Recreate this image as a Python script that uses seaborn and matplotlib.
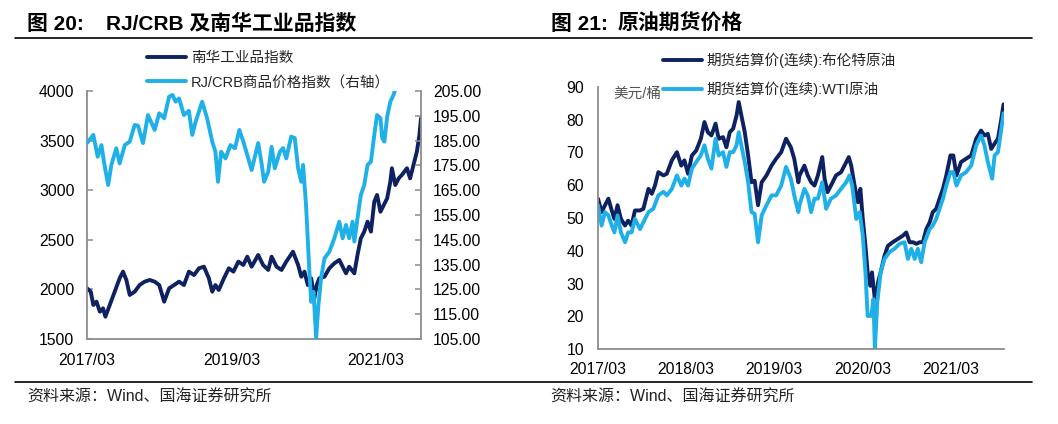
import numpy as np
import pandas as pd
import seaborn as sns
import matplotlib
matplotlib.use('Agg')
import matplotlib.pyplot as plt
import matplotlib.dates as mdates
from matplotlib.lines import Line2D
from matplotlib.ticker import FormatStrFormatter

# ---- data ----
# 南华工业品指数 (left axis)
nanhua_dates = [
    '2017-03-01', '2017-03-20', '2017-04-02', '2017-04-18', '2017-05-05', '2017-05-21',
    '2017-06-02', '2017-06-24', '2017-07-19', '2017-08-13', '2017-08-30', '2017-09-16',
    '2017-10-03', '2017-10-28', '2017-11-22', '2017-12-17', '2018-01-12', '2018-02-06',
    '2018-03-01', '2018-03-26', '2018-04-20', '2018-05-15', '2018-06-09', '2018-07-04',
    '2018-07-29', '2018-08-24', '2018-09-18', '2018-10-13', '2018-11-07', '2018-11-24',
    '2018-12-10', '2018-12-27', '2019-01-22', '2019-02-16', '2019-03-11', '2019-04-05',
    '2019-04-30', '2019-05-20', '2019-06-11', '2019-07-14', '2019-08-08', '2019-09-03',
    '2019-09-20', '2019-10-15', '2019-11-09', '2019-12-03', '2020-01-06', '2020-02-01',
    '2020-02-17', '2020-03-04', '2020-03-21', '2020-04-07', '2020-04-23', '2020-05-05',
    '2020-05-18', '2020-06-13', '2020-07-08', '2020-08-02', '2020-08-27', '2020-09-13',
    '2020-09-30', '2020-10-16', '2020-11-11', '2020-11-27', '2020-12-14', '2020-12-31',
    '2021-01-17', '2021-02-03', '2021-02-20', '2021-03-06', '2021-03-23', '2021-04-09',
    '2021-04-26', '2021-05-12', '2021-05-20', '2021-06-06', '2021-06-23', '2021-07-09',
    '2021-08-04', '2021-08-20', '2021-09-06', '2021-09-23', '2021-10-06', '2021-10-14',
]
nanhua_values = [
    2011, 1977, 1843, 1877, 1775, 1809,
    1725, 1843, 1977, 2112, 2179, 2095,
    1944, 1977, 2044, 2078, 2095, 2078,
    2044, 1876, 2011, 2044, 2078, 2044,
    2179, 2145, 2213, 2229, 2112, 1977,
    2044, 1994, 2112, 2213, 2179, 2280,
    2246, 2330, 2229, 2347, 2246, 2196,
    2330, 2229, 2196, 2280, 2380, 2246,
    2128, 2179, 2044, 2112, 1910, 2044,
    2112, 2128, 2213, 2263, 2297, 2229,
    2162, 2229, 2162, 2347, 2515, 2582,
    2683, 2582, 2884, 2952, 2783, 2851,
    2918, 3086, 3221, 3052, 3119, 3153,
    3221, 3119, 3254, 3388, 3556, 3725,
]

# RJ/CRB商品价格指数 (right axis)
crb_dates = [
    '2017-03-01', '2017-04-02', '2017-04-24', '2017-05-13', '2017-05-27', '2017-06-16',
    '2017-07-02', '2017-07-27', '2017-08-13', '2017-09-08', '2017-10-03', '2017-10-28',
    '2017-11-14', '2017-12-09', '2018-01-03', '2018-02-06', '2018-03-01', '2018-03-26',
    '2018-04-20', '2018-05-07', '2018-05-23', '2018-06-09', '2018-07-04', '2018-07-29',
    '2018-08-15', '2018-09-01', '2018-10-04', '2018-10-29', '2018-11-24', '2018-12-10',
    '2018-12-23', '2019-01-08', '2019-01-30', '2019-02-24', '2019-03-19', '2019-04-10',
    '2019-04-30', '2019-05-20', '2019-06-11', '2019-07-14', '2019-07-31', '2019-08-13',
    '2019-09-03', '2019-09-20', '2019-10-06', '2019-11-01', '2019-11-17', '2019-12-03',
    '2019-12-28', '2020-01-15', '2020-02-01', '2020-02-17', '2020-02-26', '2020-03-12',
    '2020-03-29', '2020-04-07', '2020-04-19', '2020-05-02', '2020-05-13', '2020-05-27',
    '2020-06-13', '2020-07-08', '2020-08-02', '2020-08-27', '2020-09-13', '2020-09-30',
    '2020-10-16', '2020-11-02', '2020-11-11', '2020-11-27', '2020-12-14', '2020-12-31',
    '2021-01-17', '2021-02-03', '2021-02-20', '2021-03-06', '2021-03-23', '2021-04-01',
    '2021-04-12', '2021-04-26', '2021-05-12', '2021-05-28', '2021-06-15', '2021-07-15',
    '2021-08-20', '2021-09-20', '2021-10-14',
]
crb_values = [
    184.0, 187.3, 178.5, 183.2, 175.8, 167.1,
    175.2, 181.9, 175.8, 183.2, 184.6, 191.3,
    191.0, 184.0, 195.3, 189.3, 196.0, 194.0,
    202.7, 203.4, 200.7, 202.0, 195.3, 197.0,
    187.3, 192.6, 200.7, 194.0, 184.6, 180.5,
    168.4, 180.5, 177.8, 183.2, 181.9, 189.3,
    184.6, 179.2, 173.1, 184.0, 176.0, 168.4,
    172.5, 182.5, 173.8, 180.5, 182.0, 177.8,
    186.6, 186.0, 173.8, 168.4, 175.2, 159.0,
    132.1, 120.0, 124.0, 105.3, 118.0, 129.5,
    137.5, 140.2, 145.6, 152.3, 145.6, 151.0,
    145.6, 152.3, 144.3, 153.7, 163.1, 167.1,
    175.2, 176.5, 187.3, 195.3, 194.0, 186.0,
    184.6, 194.6, 200.7, 203.4, 208.0, 212.0,
    210.0, 218.0, 228.0,
]

# 期货结算价(连续):布伦特原油
brent_dates = [
    '2017-03-01', '2017-03-16', '2017-03-30', '2017-04-13', '2017-04-27', '2017-05-08',
    '2017-05-21', '2017-06-04', '2017-06-21', '2017-07-04', '2017-07-18', '2017-08-01',
    '2017-08-22', '2017-09-05', '2017-09-26', '2017-10-10', '2017-10-23', '2017-11-06',
    '2017-11-27', '2017-12-11', '2018-01-01', '2018-01-22', '2018-02-09', '2018-02-22',
    '2018-03-09', '2018-03-25', '2018-04-12', '2018-05-01', '2018-05-16', '2018-05-30',
    '2018-06-14', '2018-07-01', '2018-07-14', '2018-08-01', '2018-08-15', '2018-08-29',
    '2018-09-12', '2018-09-26', '2018-10-05', '2018-10-16', '2018-10-30', '2018-11-13',
    '2018-11-27', '2018-12-10', '2018-12-24', '2019-01-08', '2019-01-28', '2019-02-18',
    '2019-03-09', '2019-03-30', '2019-04-19', '2019-05-09', '2019-05-23', '2019-06-09',
    '2019-06-14', '2019-07-04', '2019-07-18', '2019-08-01', '2019-08-15', '2019-08-29',
    '2019-09-16', '2019-09-26', '2019-10-08', '2019-10-29', '2019-11-12', '2019-12-03',
    '2019-12-17', '2020-01-04', '2020-01-14', '2020-01-28', '2020-02-11', '2020-02-21',
    '2020-03-02', '2020-03-13', '2020-03-22', '2020-04-02', '2020-04-09', '2020-04-18',
    '2020-04-24', '2020-05-04', '2020-05-15', '2020-05-31', '2020-06-14', '2020-07-04',
    '2020-07-25', '2020-08-15', '2020-08-29', '2020-09-12', '2020-09-26', '2020-10-10',
    '2020-10-23', '2020-11-06', '2020-11-20', '2020-12-04', '2020-12-17', '2020-12-31',
    '2021-01-14', '2021-01-28', '2021-02-11', '2021-02-28', '2021-03-12', '2021-03-25',
    '2021-04-13', '2021-05-04', '2021-05-25', '2021-06-15', '2021-07-05', '2021-07-19',
    '2021-08-02', '2021-08-16', '2021-08-30', '2021-09-13', '2021-09-27', '2021-10-06',
]
brent_values = [
    55.9, 51.8, 53.9, 55.9, 52.3, 49.7,
    53.9, 49.7, 47.7, 49.2, 47.7, 52.3,
    52.3, 52.8, 58.9, 57.4, 59.9, 64.0,
    63.0, 63.5, 67.6, 70.1, 66.0, 67.6,
    63.5, 69.1, 70.6, 74.2, 79.3, 76.2,
    75.2, 78.8, 74.2, 74.7, 71.6, 76.2,
    77.3, 81.3, 85.4, 81.3, 76.2, 69.1,
    60.9, 61.4, 53.9, 60.9, 63.0, 66.0,
    68.1, 70.1, 74.2, 71.6, 68.1, 60.9,
    63.0, 66.0, 63.0, 60.9, 59.9, 63.0,
    68.6, 61.9, 57.9, 60.9, 63.0, 64.0,
    66.0, 68.6, 66.0, 59.9, 54.8, 58.9,
    49.7, 41.5, 33.4, 29.3, 33.4, 27.3,
    22.2, 30.3, 33.4, 38.5, 41.5, 42.6,
    43.6, 44.6, 45.6, 42.6, 42.6, 42.1,
    42.6, 42.6, 46.6, 48.7, 51.8, 52.8,
    55.9, 58.9, 63.0, 69.1, 69.1, 63.0,
    67.1, 68.1, 69.1, 74.2, 76.7, 75.2,
    75.7, 71.1, 72.7, 74.2, 80.3, 84.7,
]

# 期货结算价(连续):WTI原油
wti_dates = [
    '2017-03-01', '2017-03-16', '2017-03-30', '2017-04-13', '2017-04-27', '2017-05-08',
    '2017-05-21', '2017-06-04', '2017-06-21', '2017-07-04', '2017-07-18', '2017-08-01',
    '2017-08-22', '2017-09-05', '2017-09-26', '2017-10-16', '2017-11-06', '2017-11-27',
    '2017-12-11', '2018-01-01', '2018-01-22', '2018-02-09', '2018-02-22', '2018-03-09',
    '2018-03-25', '2018-04-12', '2018-05-01', '2018-05-16', '2018-05-30', '2018-06-14',
    '2018-07-01', '2018-07-14', '2018-08-01', '2018-08-15', '2018-08-29', '2018-09-12',
    '2018-09-26', '2018-10-05', '2018-10-16', '2018-10-30', '2018-11-13', '2018-11-27',
    '2018-12-10', '2018-12-24', '2019-01-08', '2019-01-28', '2019-02-18', '2019-03-09',
    '2019-03-30', '2019-04-19', '2019-05-09', '2019-05-23', '2019-06-09', '2019-06-14',
    '2019-07-04', '2019-07-18', '2019-08-01', '2019-08-15', '2019-08-29', '2019-09-16',
    '2019-10-02', '2019-10-22', '2019-11-12', '2019-12-03', '2019-12-24', '2020-01-07',
    '2020-01-18', '2020-02-04', '2020-02-18', '2020-03-02', '2020-03-13', '2020-03-22',
    '2020-04-06', '2020-04-15', '2020-04-21', '2020-05-01', '2020-05-15', '2020-05-31',
    '2020-06-21', '2020-07-11', '2020-08-01', '2020-08-22', '2020-09-05', '2020-09-19',
    '2020-10-03', '2020-10-16', '2020-10-30', '2020-11-13', '2020-12-04', '2020-12-17',
    '2020-12-31', '2021-01-14', '2021-01-28', '2021-02-11', '2021-02-28', '2021-03-12',
    '2021-03-25', '2021-04-13', '2021-05-04', '2021-05-25', '2021-06-15', '2021-07-05',
    '2021-07-19', '2021-08-02', '2021-08-20', '2021-08-30', '2021-09-13', '2021-09-27',
    '2021-10-06',
]
wti_values = [
    53.9, 47.7, 51.8, 50.8, 47.7, 45.6,
    50.8, 45.6, 42.6, 45.6, 45.6, 49.7,
    46.6, 48.7, 51.8, 52.8, 56.9, 58.0,
    56.9, 58.9, 63.0, 59.9, 62.0, 59.9,
    65.1, 67.1, 69.1, 72.2, 68.1, 65.1,
    74.2, 69.1, 70.1, 65.6, 70.1, 70.1,
    72.2, 76.2, 72.2, 67.1, 60.9, 51.8,
    51.3, 42.6, 50.8, 53.9, 56.9, 56.9,
    59.9, 65.6, 62.0, 56.9, 51.8, 54.0,
    58.9, 56.9, 51.8, 55.9, 55.9, 60.9,
    52.8, 55.9, 56.9, 58.9, 60.9, 63.0,
    59.9, 49.7, 51.8, 44.6, 33.4, 20.1,
    20.1, 25.2, 10.0, 24.2, 33.4, 37.5,
    39.6, 40.6, 42.1, 42.6, 37.5, 40.6,
    37.5, 40.6, 36.5, 42.6, 46.6, 47.7,
    49.7, 52.8, 55.9, 59.9, 64.0, 64.0,
    59.9, 63.0, 64.0, 66.0, 72.2, 75.2,
    72.2, 67.1, 62.0, 69.1, 70.1, 77.3,
    82.0,
]

left_ticks = ['2017-03-01', '2019-03-01', '2021-03-01']
right_ticks = ['2017-03-01', '2018-03-01', '2019-03-01', '2020-03-01', '2021-03-01']

NAVY = '#0e2160'
LIGHT = '#1fb0e8'
GREY = '#8c8c8c'
W, H = 1058, 424
LW = 2.8

sns.set_style('white')
plt.rcParams['font.family'] = ['Liberation Sans', 'Noto Sans CJK SC', 'DejaVu Sans']

fig = plt.figure(figsize=(W / 100, H / 100), dpi=100)


def fx(px):
    return px / W


def fy(py):
    return 1 - py / H


def style_axis(ax, label_pad):
    for s in ax.spines.values():
        s.set_color(GREY)
        s.set_linewidth(1.3)
    ax.tick_params(direction='in', length=4, width=1.1, color=GREY,
                   labelsize=11.3, labelcolor='black', pad=label_pad)
    ax.set_xlabel('')
    ax.set_ylabel('')


# ---- left panel: 南华工业品 vs RJ/CRB ----
ax1 = fig.add_axes([fx(87), fy(339), fx(334), 248 / H])
ax1b = ax1.twinx()
sns.lineplot(x=pd.to_datetime(nanhua_dates), y=nanhua_values, ax=ax1,
             color=NAVY, linewidth=LW, legend=False)
sns.lineplot(x=pd.to_datetime(crb_dates), y=crb_values, ax=ax1b,
             color=LIGHT, linewidth=LW, legend=False)
ax1.set_ylim(1500, 4000)
ax1.set_yticks(np.arange(1500, 4001, 500))
ax1b.set_ylim(105, 205)
ax1b.set_yticks(np.arange(105, 206, 10))
ax1b.yaxis.set_major_formatter(FormatStrFormatter('%.2f'))
ax1.set_xlim(pd.Timestamp('2017-03-01'), pd.Timestamp('2021-10-14'))
ax1.set_xticks(pd.to_datetime(left_ticks))
ax1.xaxis.set_major_formatter(mdates.DateFormatter('%Y/%m'))
style_axis(ax1, 9)
style_axis(ax1b, 8.5)
ax1.tick_params(axis='x', pad=10)
ax1.spines['top'].set_visible(False)
ax1.spines['right'].set_visible(False)
for side in ['top', 'left', 'bottom']:
    ax1b.spines[side].set_visible(False)

# ---- right panel: 原油期货价格 ----
ax2 = fig.add_axes([fx(598), fy(349), fx(406), 262 / H])
sns.lineplot(x=pd.to_datetime(brent_dates), y=brent_values, ax=ax2,
             color=NAVY, linewidth=LW, legend=False)
sns.lineplot(x=pd.to_datetime(wti_dates), y=wti_values, ax=ax2,
             color=LIGHT, linewidth=LW, legend=False)
ax2.set_ylim(10, 90)
ax2.set_yticks(np.arange(10, 91, 10))
ax2.set_xlim(pd.Timestamp('2017-03-01'), pd.Timestamp('2021-10-08'))
ax2.set_xticks(pd.to_datetime(right_ticks))
ax2.xaxis.set_major_formatter(mdates.DateFormatter('%Y/%m'))
style_axis(ax2, 10)
ax2.tick_params(axis='x', pad=9)
ax2.spines['top'].set_visible(False)
ax2.spines['right'].set_visible(False)

# ---- legends ----
leg_kw = dict(loc='upper left', frameon=False, fontsize=10.5, handlelength=2.7,
              handletextpad=0.3, borderpad=0, borderaxespad=0)
fig.legend([Line2D([], [], color=NAVY, lw=2.8), Line2D([], [], color=LIGHT, lw=2.8)],
           ['南华工业品指数', 'RJ/CRB商品价格指数（右轴）'],
           bbox_to_anchor=(fx(147), fy(51)), labelspacing=0.7, **leg_kw)
fig.legend([Line2D([], [], color=NAVY, lw=2.8), Line2D([], [], color=LIGHT, lw=2.8)],
           ['期货结算价(连续):布伦特原油', '期货结算价(连续):WTI原油'],
           bbox_to_anchor=(fx(663), fy(53)), labelspacing=0.9, **leg_kw)

fig.text(fx(613), fy(94), '美元/桶', fontsize=10.5, color='#555555', va='center')

# ---- titles, rules and source notes ----
title_kw = dict(fontsize=15, fontweight='bold', va='center', color='black')
fig.text(fx(27), fy(24), '图 20:', **title_kw)
fig.text(fx(106), fy(24), 'RJ/CRB 及南华工业品指数', **title_kw)
fig.text(fx(551), fy(24), '图 21:', **title_kw)
fig.text(fx(618), fy(24), '原油期货价格', **title_kw)

for yy in (38, 382):
    fig.add_artist(Line2D([fx(15), fx(1032)], [fy(yy), fy(yy)], color='black', lw=1.2))

src_kw = dict(fontsize=11.5, va='center', color='#222222')
fig.text(fx(27), fy(397), '资料来源：Wind、国海证券研究所', **src_kw)
fig.text(fx(550), fy(397), '资料来源：Wind、国海证券研究所', **src_kw)

fig.savefig('out.png', dpi=100)
